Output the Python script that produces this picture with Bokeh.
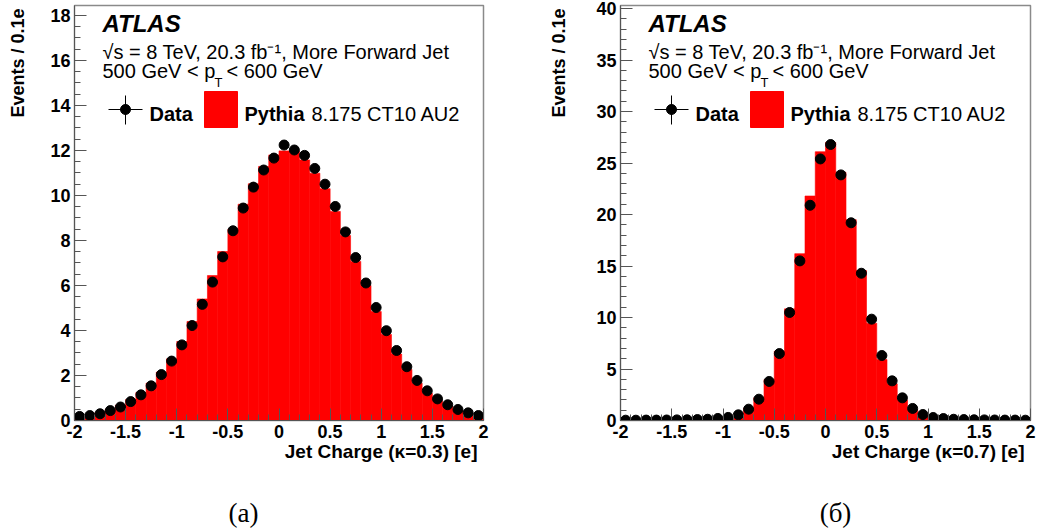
import numpy as np
from bokeh.plotting import figure
from bokeh.models import Label, Range1d, SingleIntervalTicker, CustomJSTickFormatter, Title
from bokeh.layouts import row, column
from bokeh.embed import file_html
from bokeh.resources import INLINE

# ---------------- data ----------------
bin_edges = np.round(np.arange(-2.0, 2.0001, 0.1), 2)

data_k03 = [0.18, 0.22, 0.30, 0.44, 0.60, 0.84, 1.14, 1.54, 2.04, 2.64,
            3.36, 4.22, 5.16, 6.15, 7.27, 8.43, 9.44, 10.37, 11.13, 11.66,
            12.24, 12.02, 11.78, 11.20, 10.50, 9.51, 8.38, 7.24, 6.11, 5.02,
            3.99, 3.11, 2.39, 1.78, 1.32, 0.96, 0.70, 0.49, 0.34, 0.22]
mc_k03 = [0.20, 0.26, 0.35, 0.50, 0.68, 0.93, 1.24, 1.66, 2.15, 2.74,
          3.51, 4.40, 5.40, 6.44, 7.51, 8.50, 9.61, 10.52, 11.29, 11.80,
          11.98, 11.96, 11.58, 10.99, 10.30, 9.29, 8.22, 7.07, 6.00, 4.84,
          3.82, 2.95, 2.27, 1.66, 1.21, 0.88, 0.63, 0.44, 0.30, 0.20]

data_k07 = [0.03, 0.03, 0.04, 0.04, 0.05, 0.06, 0.07, 0.09, 0.12, 0.20,
            0.30, 0.55, 1.10, 2.07, 3.79, 6.50, 10.49, 15.50, 20.90, 25.40,
            26.80, 23.85, 19.20, 14.30, 9.84, 6.31, 3.85, 2.20, 1.17, 0.58,
            0.29, 0.19, 0.12, 0.09, 0.07, 0.06, 0.05, 0.04, 0.04, 0.03]
mc_k07 = [0.03, 0.03, 0.04, 0.04, 0.05, 0.06, 0.07, 0.09, 0.12, 0.20,
          0.32, 0.60, 1.20, 2.20, 3.98, 6.73, 10.84, 16.20, 21.80, 26.10,
          27.00, 24.10, 19.50, 14.56, 9.45, 5.92, 3.56, 2.00, 1.05, 0.52,
          0.26, 0.17, 0.11, 0.08, 0.07, 0.06, 0.05, 0.04, 0.04, 0.03]

x_titles = ["Jet Charge (\u03ba=0.3) [e]", "Jet Charge (\u03ba=0.7) [e]"]
y_title = "Events / 0.1e"
captions = ["(a)", "(\u0431)"]

SANS = "Liberation Sans"
SERIF = "Liberation Serif"
FRAME_TOP = 5       # page px
FRAME_BOTTOM = 420  # page px
FIG_H = 472
CAP_H = 58


def set_standoff(t, v):
    try:
        t.standoff = v
    except Exception:
        pass


def make_panel(values, mc, ymax, yint, yminor, fig_l, frame_l, frame_r, fig_r,
               xtitle, ytitle_standoff):
    W = fig_r - fig_l
    fh = FRAME_BOTTOM - FRAME_TOP
    p = figure(width=W, height=FIG_H, x_range=Range1d(-2, 2), y_range=Range1d(0, ymax),
               output_backend="svg", toolbar_location=None,
               min_border_left=frame_l - fig_l, min_border_right=fig_r - frame_r,
               min_border_top=FRAME_TOP, min_border_bottom=FIG_H - FRAME_BOTTOM)
    fw = frame_r - frame_l

    def px2x(px):
        return -2 + (px - frame_l) * 4.0 / fw

    def px2y(py):
        return (FRAME_BOTTOM - py) * ymax / fh

    p.grid.visible = False
    p.background_fill_color = "white"
    p.border_fill_color = "white"
    p.outline_line_color = "#8a8a8a"
    p.outline_line_width = 1.5

    fmt = CustomJSTickFormatter(code="return tick.toString();")
    p.xaxis.ticker = SingleIntervalTicker(interval=0.5, num_minor_ticks=5)
    p.yaxis.ticker = SingleIntervalTicker(interval=yint, num_minor_ticks=yminor)
    for ax in (p.xaxis[0], p.yaxis[0]):
        ax.formatter = fmt
        ax.major_tick_in = 12
        ax.major_tick_out = 0
        ax.minor_tick_in = 6
        ax.minor_tick_out = 0
        ax.axis_line_color = "#555555"
        ax.major_tick_line_color = "#555555"
        ax.minor_tick_line_color = "#555555"
        ax.major_label_text_font = SANS
        ax.major_label_text_font_style = "bold"
        ax.major_label_text_font_size = "18px"
        ax.major_label_text_color = "black"
        ax.major_label_standoff = 4

    # MC histogram
    p.quad(left=bin_edges[:-1], right=bin_edges[1:], bottom=0, top=mc,
           fill_color="#ff0000", line_color="#ff0000", line_width=0.6)
    # data points
    centers = (bin_edges[:-1] + bin_edges[1:]) / 2
    p.scatter(centers, values, marker="circle", size=10, color="black")

    def label(px, py, text, size, style="normal"):
        p.add_layout(Label(x=px2x(px), y=px2y(py), text=text, text_font=SANS,
                           text_font_style=style, text_font_size=size,
                           text_color="black", text_baseline="alphabetic"))

    # ---- header texts ----
    fl = frame_l
    label(fl + 28, 23, "ATLAS", "24px", "bold italic")
    label(fl + 28, 51, "\u221as = 8 TeV, 20.3 fb\u207b\u00b9, More Forward Jet", "20px")
    label(fl + 28, 70, "500 GeV < p", "20px")
    label(fl + 140, 82, "T", "13px")
    label(fl + 152, 70, "< 600 GeV", "20px")

    # ---- legend ----
    p.segment(x0=[px2x(fl + 34), px2x(fl + 51)], y0=[px2y(109), px2y(95)],
              x1=[px2x(fl + 68), px2x(fl + 51)], y1=[px2y(109), px2y(124)],
              line_color="black", line_width=1)
    p.scatter([px2x(fl + 51)], [px2y(109)], marker="circle", size=10, color="black")
    label(fl + 75, 113, "Data", "20px", "bold")
    p.quad(left=[px2x(fl + 130)], right=[px2x(fl + 163)], bottom=[px2y(127)],
           top=[px2y(91)], fill_color="#ff0000", line_color="#ff0000")
    label(fl + 170, 113, "Pythia", "20px", "bold")
    label(fl + 237, 113, "8.175 CT10 AU2", "20px")

    # ---- axis titles (as titles outside the frame) ----
    tx = Title(text=xtitle, align="right", offset=6, vertical_align="top",
               text_font=SANS, text_font_style="bold", text_font_size="19px",
               text_color="black")
    set_standoff(tx, 0)
    p.add_layout(tx, "below")
    ty = Title(text=y_title + "\n\u00a0", align="right", offset=3, text_font=SANS,
               text_font_style="bold", text_font_size="18px", text_color="black")
    set_standoff(ty, ytitle_standoff)
    p.add_layout(ty, "left")
    return p


def make_caption(text, W, cx):
    c = figure(width=W, height=CAP_H, x_range=Range1d(0, W), y_range=Range1d(0, CAP_H),
               output_backend="svg", toolbar_location=None, min_border=0)
    c.axis.visible = False
    c.grid.visible = False
    c.outline_line_color = None
    c.background_fill_color = "white"
    c.border_fill_color = "white"
    c.add_layout(Label(x=cx, y=CAP_H - (512 - FIG_H), text=text, text_font=SERIF,
                       text_font_size="27px", text_color="black",
                       text_align="center", text_baseline="middle"))
    return c


p1 = make_panel(data_k03, mc_k03, 18.44, 2, 4, 0, 74, 483, 540, x_titles[0], 0)
p2 = make_panel(data_k07, mc_k07, 40.3, 5, 5, 540, 620, 1030, 1036, x_titles[1], 9)
c1 = make_caption(captions[0], 540, 243)
c2 = make_caption(captions[1], 496, 835 - 540)

layout = column(row(p1, p2), row(c1, c2))
open("out.html", "w").write(file_html(layout, INLINE))
